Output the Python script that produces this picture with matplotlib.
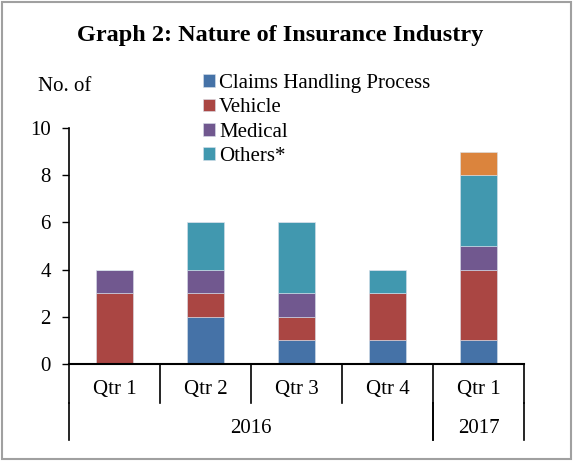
import matplotlib
matplotlib.use('Agg')
import matplotlib.pyplot as plt
from matplotlib.patches import Rectangle
import matplotlib.transforms as mtransforms
import numpy as np

plt.rcParams['font.family'] = ['Liberation Serif', 'DejaVu Serif']

quarters = ['Qtr 1', 'Qtr 2', 'Qtr 3', 'Qtr 4', 'Qtr 1']
years = ['2016', '2017']
year_spans = [(0, 3), (4, 4)]

series_names = ['Claims Handling Process', 'Vehicle', 'Medical', 'Others*', '']
claims = [0, 2, 1, 1, 1]
vehicle = [3, 1, 1, 2, 3]
medical = [1, 1, 1, 0, 1]
others = [0, 2, 3, 1, 3]
extra = [0, 0, 0, 0, 1]
series = [claims, vehicle, medical, others, extra]
colors = ['#4572A7', '#AA4643', '#71588F', '#4198AF', '#DB843D']

fig = plt.figure(figsize=(5.74, 4.61), dpi=100)
ax = fig.add_axes([0.1202, 0.2104, 0.7927, 0.5119])

x = np.arange(len(quarters))
bottom = np.zeros(len(quarters))
handles = []
for name, vals, c in zip(series_names, series, colors):
    b = ax.bar(x, vals, 0.4, bottom=bottom, color=c, edgecolor='#d8e0ea', linewidth=0.4)
    if name:
        handles.append((b, name))
    bottom += np.array(vals)

ax.set_xlim(-0.5, len(quarters) - 0.5)
ax.set_ylim(0, 10)
ax.set_yticks([0, 2, 4, 6, 8, 10])
ax.tick_params(axis='y', direction='out', length=5, width=1, labelsize=15, pad=8)
ax.set_xticks([])
ax.spines['top'].set_visible(False)
ax.spines['right'].set_visible(False)
ax.spines['left'].set_linewidth(1.2)
ax.spines['bottom'].set_linewidth(1.5)

trans = mtransforms.blended_transform_factory(ax.transData, ax.transAxes)
# quarter dividers
for i in range(len(quarters) + 1):
    ax.plot([i - 0.5, i - 0.5], [0, -0.165], transform=trans, color='black', lw=1.2, clip_on=False)
for i, q in enumerate(quarters):
    ax.text(i, -0.11, q, transform=trans, ha='center', va='center', fontsize=15)
# year dividers
for (s, e), y in zip(year_spans, years):
    for xv in (s - 0.5, e + 0.5):
        ax.plot([xv, xv], [-0.165, -0.322], transform=trans, color='black', lw=1.2, clip_on=False)
    ax.text((s + e) / 2, -0.275, y, transform=trans, ha='center', va='center', fontsize=15)

fig.text(0.488, 0.922, 'Graph 2: Nature of Insurance Industry', ha='center', va='center',
         fontsize=17.5, fontweight='bold')
fig.text(0.066, 0.813, 'No. of', ha='left', va='center', fontsize=15)

leg = fig.legend([h for h, _ in handles], [n for _, n in handles], loc='upper left',
                 bbox_to_anchor=(0.34, 0.858), frameon=False, fontsize=15,
                 handlelength=0.55, handleheight=0.55, handletextpad=0.2,
                 labelspacing=0.26, borderaxespad=0)

fig.patches.append(Rectangle((0.003, 0.004), 0.992, 0.992, transform=fig.transFigure,
                             fill=False, edgecolor='#a0a0a0', linewidth=1.5))

fig.savefig('out.png', dpi=100)
